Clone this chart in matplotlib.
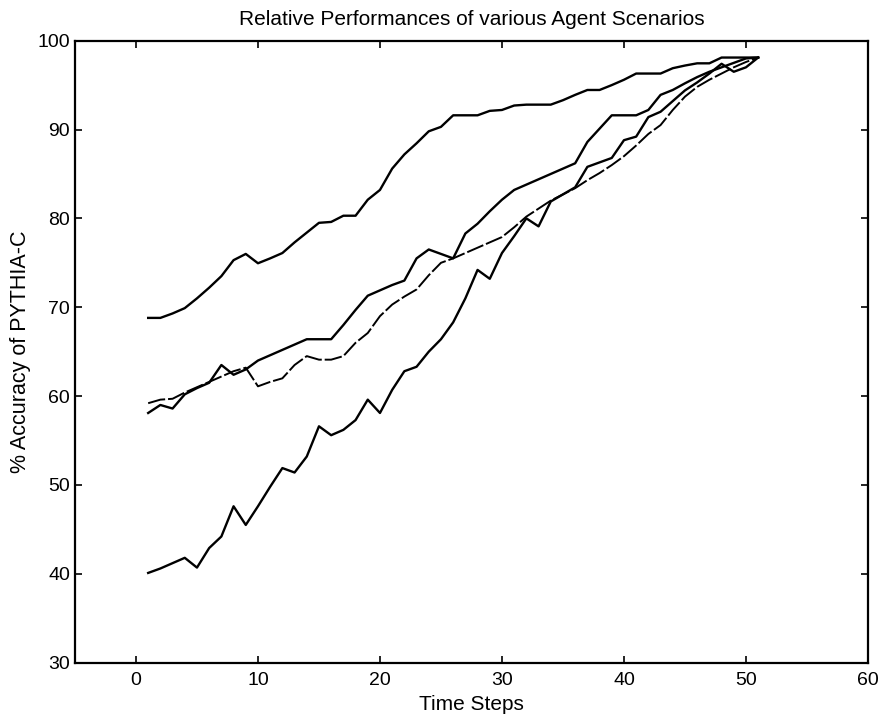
import matplotlib
matplotlib.use("Agg")
import matplotlib.pyplot as plt
import numpy as np

plt.rcParams['font.family'] = ['Liberation Sans', 'DejaVu Sans']

time_steps = list(range(1, 52))

scenario_top = [68.8, 68.8, 69.3, 69.9, 71.0, 72.2, 73.5, 75.3, 76.0, 74.95,
                75.5, 76.1, 77.3, 78.4, 79.5, 79.6, 80.3, 80.3, 82.1, 83.2,
                85.6, 87.2, 88.45, 89.8, 90.3, 91.6, 91.6, 91.6, 92.1, 92.2,
                92.7, 92.8, 92.8, 92.8, 93.3, 93.9, 94.45, 94.45, 95.0, 95.6,
                96.3, 96.3, 96.3, 96.9, 97.2, 97.45, 97.45, 98.1, 98.1, 98.1,
                98.1]

scenario_upper = [58.1, 59.0, 58.6, 60.2, 60.9, 61.5, 63.5, 62.4, 63.0, 64.0,
                  64.6, 65.2, 65.8, 66.4, 66.4, 66.4, 68.0, 69.7, 71.3, 71.9,
                  72.5, 73.0, 75.5, 76.5, 76.0, 75.5, 78.3, 79.4, 80.8, 82.1,
                  83.2, 83.8, 84.4, 85.0, 85.6, 86.2, 88.6, 90.1, 91.6, 91.6,
                  91.6, 92.2, 93.9, 94.45, 95.2, 95.9, 96.5, 97.0, 97.5, 98.0,
                  98.1]

scenario_lower = [59.2, 59.6, 59.7, 60.4, 61.0, 61.6, 62.2, 62.8, 63.2, 61.1,
                  61.6, 62.0, 63.5, 64.5, 64.1, 64.1, 64.5, 66.0, 67.1, 69.0,
                  70.3, 71.2, 72.0, 73.6, 75.0, 75.5, 76.1, 76.7, 77.3, 77.9,
                  79.0, 80.2, 81.1, 82.0, 82.7, 83.4, 84.3, 85.1, 86.0, 87.0,
                  88.2, 89.5, 90.5, 92.2, 93.7, 94.8, 95.6, 96.3, 97.0, 97.6,
                  98.1]

scenario_bottom = [40.1, 40.6, 41.2, 41.8, 40.7, 42.9, 44.2, 47.6, 45.5, 47.6,
                   49.8, 51.9, 51.4, 53.2, 56.6, 55.6, 56.2, 57.3, 59.6, 58.1,
                   60.7, 62.8, 63.3, 65.0, 66.4, 68.3, 71.0, 74.2, 73.2, 76.1,
                   78.0, 80.0, 79.1, 81.9, 82.7, 83.5, 85.8, 86.3, 86.8, 88.8,
                   89.2, 91.4, 92.0, 93.2, 94.4, 95.3, 96.3, 97.4, 96.5, 97.0,
                   98.1]

x_ticks = [0, 10, 20, 30, 40, 50, 60]
y_ticks = [30, 40, 50, 60, 70, 80, 90, 100]

fig = plt.figure(figsize=(8.81, 7.21), dpi=100)
ax = fig.add_axes([0.0851, 0.0809, 0.9001, 0.8627])

ax.plot(time_steps, scenario_top, color='black', lw=1.7)
ax.plot(time_steps, scenario_upper, color='black', lw=1.7)
ax.plot(time_steps, scenario_lower, color='black', lw=1.4, dashes=(9, 1.5))
ax.plot(time_steps, scenario_bottom, color='black', lw=1.7)

ax.set_xlim(-5, 60)
ax.set_ylim(30, 100)
ax.set_xticks(x_ticks)
ax.set_yticks(y_ticks)
ax.tick_params(direction='in', length=5, width=1.2, top=True, right=True,
               labelsize=14, colors='black')
ax.tick_params(axis='x', pad=7)
ax.tick_params(axis='y', pad=3.5)
for s in ax.spines.values():
    s.set_linewidth(1.6)
    s.set_color('black')

ax.set_title('Relative Performances of various Agent Scenarios', fontsize=15, pad=11)
ax.set_xlabel('Time Steps', fontsize=15, labelpad=4)
ax.set_ylabel('% Accuracy of PYTHIA-C', fontsize=15.5, labelpad=5)

fig.savefig('out.png', dpi=100)
